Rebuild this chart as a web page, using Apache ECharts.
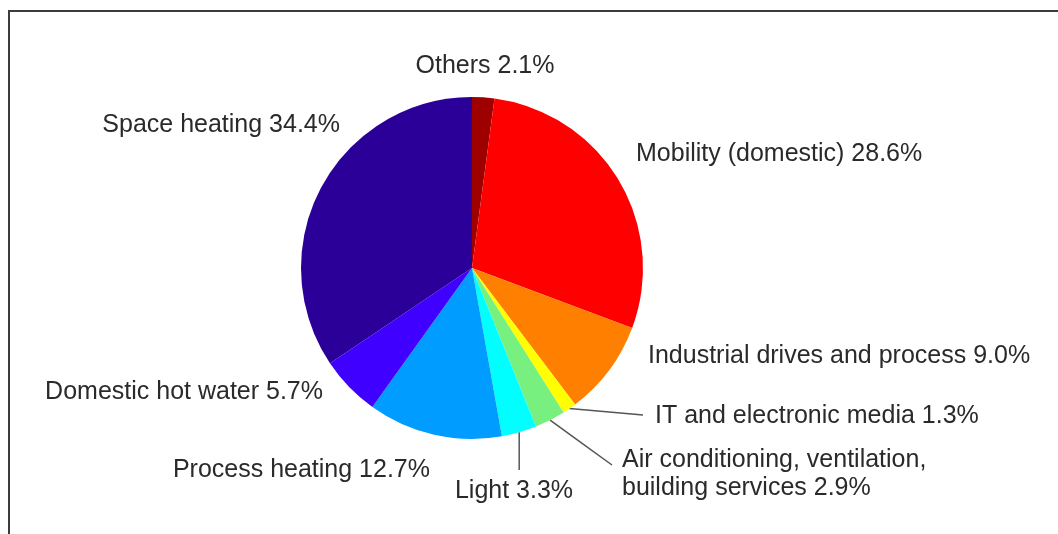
<!DOCTYPE html>
<html>
<head>
<meta charset="utf-8">
<script src="https://cdn.jsdelivr.net/npm/echarts@6/dist/echarts.min.js"></script>
<style>
html,body{margin:0;padding:0;background:#fff;}
#chart{width:1058px;height:534px;}
</style>
</head>
<body>
<div id="chart"></div>
<script>
// ---- data ----
const categories = [
  'Others',
  'Mobility (domestic)',
  'Industrial drives and process',
  'IT and electronic media',
  'Air conditioning, ventilation,\nbuilding services',
  'Light',
  'Process heating',
  'Domestic hot water',
  'Space heating'
];
const shares = [2.1, 28.6, 9.0, 1.3, 2.9, 3.3, 12.7, 5.7, 34.4];
const colors = ['#9e0000', '#ff0000', '#ff8000', '#ffff00', '#78f080', '#00ffff', '#009cff', '#4000ff', '#2b0098'];

// ---- layout (styles, not data) ----
const CX = 472, CY = 268, R = 171;
const labelPlace = [
  {x: 485, y: 66, align: 'center'},
  {x: 636, y: 154, align: 'left'},
  {x: 648, y: 356, align: 'left'},
  {x: 655, y: 416, align: 'left', line: 'h'},
  {x: 622, y: 474, align: 'left', line: 'd'},
  {x: 514, y: 491, align: 'center', line: 'v'},
  {x: 430, y: 470, align: 'right'},
  {x: 323, y: 392, align: 'right'},
  {x: 340, y: 125, align: 'right'}
];

const total = shares.reduce((a, b) => a + b, 0);
function midAngle(i) {
  let cum = 0;
  for (let k = 0; k < i; k++) cum += shares[k];
  return (cum + shares[i] / 2) / total * 2 * Math.PI;
}

const data = categories.map((name, i) => ({
  name: name,
  value: shares[i],
  itemStyle: {color: colors[i]},
  labelLine: {show: !!labelPlace[i].line}
}));

const chart = echarts.init(document.getElementById('chart'), null, {renderer: 'canvas'});
chart.setOption({
  animation: false,
  backgroundColor: '#fff',
  graphic: [{
    type: 'polyline',
    shape: {points: [[9, 534], [9, 11], [1058, 11]]},
    style: {stroke: '#3c3c3c', lineWidth: 2, fill: null},
    silent: true
  }],
  series: [{
    type: 'pie',
    center: [CX, CY],
    radius: [0, R],
    startAngle: 90,
    clockwise: true,
    avoidLabelOverlap: false,
    silent: true,
    data: data,
    itemStyle: {borderWidth: 0},
    label: {
      show: true,
      position: 'outside',
      fontFamily: 'Liberation Sans, Arial, sans-serif',
      fontSize: 25,
      lineHeight: 28,
      color: '#2a2a2a',
      formatter: p => p.name + ' ' + p.value.toFixed(1) + '%'
    },
    labelLine: {
      show: false,
      lineStyle: {color: '#555', width: 1.5}
    },
    labelLayout: function (params) {
      const i = params.dataIndex;
      const lp = labelPlace[i];
      const out = {x: lp.x, y: lp.y, align: lp.align, verticalAlign: 'middle'};
      if (lp.line) {
        const a = midAngle(i);
        const sx = CX + R * Math.sin(a);
        const sy = CY - R * Math.cos(a);
        let ex, ey;
        if (lp.line === 'h') { ex = lp.x - 12; ey = lp.y - 1; }
        else if (lp.line === 'd') { ex = lp.x - 10; ey = lp.y - 9; }
        else { ex = sx; ey = lp.y - 21; }
        out.labelLinePoints = [[sx, sy], [(sx + ex) / 2, (sy + ey) / 2], [ex, ey]];
      }
      return out;
    }
  }]
});
</script>
</body>
</html>
